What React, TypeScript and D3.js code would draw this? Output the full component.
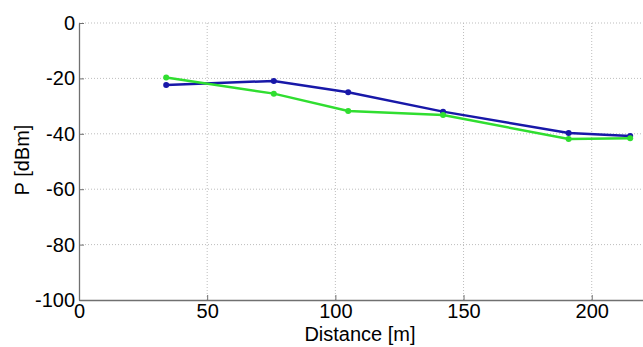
import { useEffect, useRef } from 'react';
import * as d3 from 'd3';

// distances [m]
const distances = [34, 76, 105, 142, 191, 215];
// received power [dBm]
const blueSeries = [-22.4, -20.9, -25.0, -32.0, -39.7, -40.8];
const greenSeries = [-19.7, -25.5, -31.8, -33.2, -41.9, -41.6];

const xTicks = [0, 50, 100, 150, 200];
const yTicks = [0, -20, -40, -60, -80, -100];

const series = [
  { name: 'blue', color: '#1818a8', values: blueSeries },
  { name: 'green', color: '#30de30', values: greenSeries },
];

export default function App() {
  const svgRef = useRef<SVGSVGElement | null>(null);

  useEffect(() => {
    if (!svgRef.current) return;
    const svg = d3.select(svgRef.current);
    svg.selectAll('*').remove();

    const width = 643;
    const height = 347;
    const margin = { top: 23, right: 0, bottom: 47, left: 79 };

    const x = d3.scaleLinear().domain([0, 220]).range([margin.left, width - margin.right]);
    const y = d3.scaleLinear().domain([-100, 0]).range([height - margin.bottom, margin.top]);

    const font = 'Liberation Sans, Arial, sans-serif';
    const fontSize = 20;

    // grid
    const grid = svg.append('g').attr('stroke', '#bdbdbd').attr('stroke-width', 1).attr('stroke-dasharray', '1,2');
    grid.selectAll('line.gx')
      .data(xTicks.filter(t => t > 0))
      .join('line')
      .attr('x1', d => x(d)).attr('x2', d => x(d))
      .attr('y1', y(0)).attr('y2', y(-100));
    grid.selectAll('line.gy')
      .data(yTicks.filter(t => t > -100))
      .join('line')
      .attr('x1', x(0)).attr('x2', x(220))
      .attr('y1', d => y(d)).attr('y2', d => y(d));

    // axes
    const xAxis = svg.append('g')
      .attr('transform', `translate(0,${y(-100)})`)
      .call(d3.axisBottom(x).tickValues(xTicks).tickSizeInner(-5).tickSizeOuter(0).tickPadding(8).tickFormat(d3.format('d')));
    const yAxis = svg.append('g')
      .attr('transform', `translate(${x(0)},0)`)
      .call(d3.axisLeft(y).tickValues(yTicks).tickSizeInner(-5).tickSizeOuter(0).tickPadding(4).tickFormat(d => String(d)));

    [xAxis, yAxis].forEach(ax => {
      ax.select('.domain').attr('stroke', '#707070').attr('stroke-width', 1.3);
      ax.selectAll('.tick line').attr('stroke', '#707070');
      ax.selectAll('.tick text').attr('fill', '#000').attr('font-family', font).attr('font-size', fontSize);
    });
    xAxis.selectAll('.tick text').attr('dy', '0.5em');

    // lines
    const line = d3.line<number>()
      .x((_, i) => x(distances[i]))
      .y(d => y(d));

    series.forEach(s => {
      svg.append('path')
        .datum(s.values)
        .attr('fill', 'none')
        .attr('stroke', s.color)
        .attr('stroke-width', 2.5)
        .attr('d', line);
      svg.append('g').selectAll('circle')
        .data(s.values)
        .join('circle')
        .attr('cx', (_, i) => x(distances[i]))
        .attr('cy', d => y(d))
        .attr('r', 3)
        .attr('fill', s.color);
    });

    // labels
    svg.append('text')
      .attr('x', 360).attr('y', 341)
      .attr('text-anchor', 'middle')
      .attr('font-family', font).attr('font-size', fontSize)
      .text('Distance [m]');
    svg.append('text')
      .attr('transform', `translate(29,160) rotate(-90)`)
      .attr('text-anchor', 'middle')
      .attr('font-family', font).attr('font-size', fontSize)
      .text('P [dBm]');
  }, []);

  return (
    <svg ref={svgRef} width={643} height={347}
      style={{ position: 'absolute', left: 0, top: 0, background: '#fff' }} />
  );
}
